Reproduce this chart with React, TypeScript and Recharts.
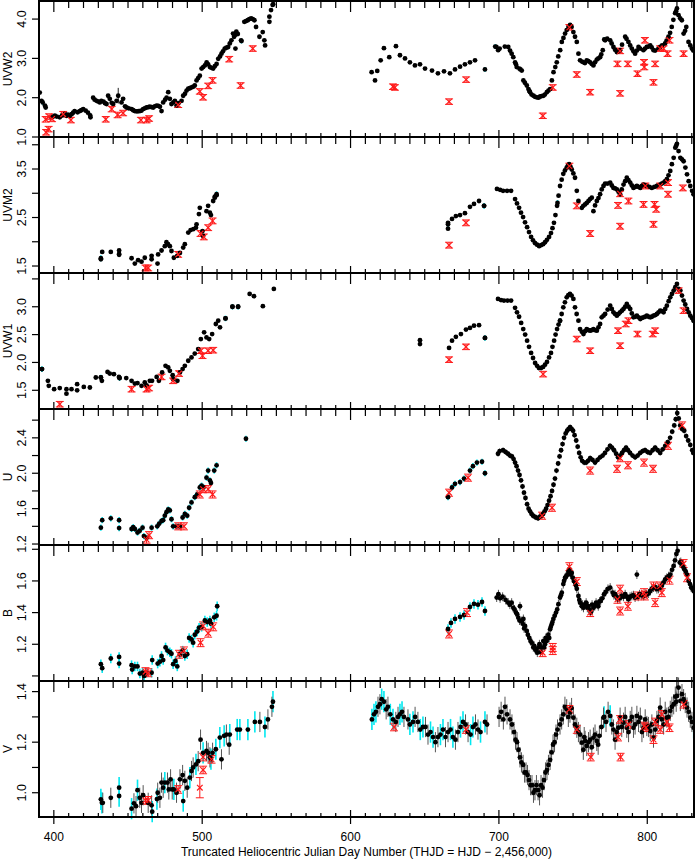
import React from 'react';
import { ComposedChart, Scatter, XAxis, YAxis, ErrorBar } from 'recharts';

type Pt = number[];

const FONT = '"Liberation Sans", Arial, Helvetica, sans-serif';
const W = 698;
const PANEL_H = 136;
const PAD = 16;
const BOTTOM_PAD = 46;
const PLOT_L = 39;
const PLOT_R = 694;

const DAY_DOMAIN = [390, 831.5];
const DAY_TICKS = [390, 400, 410, 420, 430, 440, 450, 460, 470, 480, 490, 500, 510, 520, 530, 540, 550, 560, 570, 580, 590, 600, 610, 620, 630, 640, 650, 660, 670, 680, 690, 700, 710, 720, 730, 740, 750, 760, 770, 780, 790, 800, 810, 820, 830];
const DAY_LABELS = [400, 500, 600, 700, 800];
const X_TITLE = 'Truncated Heliocentric Julian Day Number (THJD = HJD \u2212 2,456,000)';

// ---- UVW2 ----
const uvw2Black: Pt[] = [
  [390.5, 2.13], [391.7, 1.92], [394, 1.8], [394.5, 1.75], [398.5, 1.5], [400.7, 1.54], [404, 1.5], [407.4, 1.59], [408.5, 1.54], [410.8, 1.54],
  [413, 1.62], [414, 1.66], [417.5, 1.66], [419.8, 1.71], [423, 1.62], [424.7, 1.5], [426.5, 2.0], [428.8, 1.92], [431, 1.88], [432, 1.92],
  [435.5, 1.84], [436.6, 2.05], [437.7, 1.97], [440, 1.84], [442.3, 1.92], [443.4, 2.05, 0.2], [445.6, 1.88], [446.7, 1.97], [449, 1.75], [452.4, 1.71],
  [454.6, 1.66], [458, 1.66], [460.2, 1.71], [462.5, 1.75], [464.7, 1.77], [467, 1.75], [469.3, 1.8], [471.5, 1.77], [472.6, 1.66], [473.7, 1.88],
  [476, 2.0], [477.1, 2.14], [478.2, 1.97], [479.3, 1.84], [481.6, 1.92], [482.7, 1.8], [486.1, 1.92], [487.2, 2.05], [489.5, 2.18], [490.6, 2.23],
  [492.8, 2.26], [495, 2.31], [496.2, 2.44], [498.4, 2.56], [499.6, 2.74], [501.8, 2.82], [503, 2.9], [505.2, 2.78], [507.4, 2.74], [509.7, 2.86],
  [510.8, 2.99], [513, 3.12], [515.2, 3.25], [517.5, 3.29], [518.6, 3.38], [519.7, 3.46], [520.8, 3.63], [522, 3.59], [523, 3.68], [522.4, 3.25],
  [526.2, 3.46], [528.4, 3.93], [530.7, 3.97], [533, 4.02], [535.2, 3.97], [536.3, 3.8], [538.6, 3.55], [540.8, 3.67], [541.9, 3.46], [542.4, 3.33],
  [545.3, 4.06], [545.3, 3.93], [546.4, 4.23], [547.5, 4.36],
  [399.5, 1.52], [402, 1.52], [405.5, 1.55], [409.5, 1.57], [412, 1.58], [416, 1.63], [418.5, 1.68], [421.5, 1.67], [427.5, 1.95], [430, 1.9],
  [433.5, 1.9], [434.5, 1.86], [439, 1.87], [448, 1.78], [450.5, 1.73], [453.5, 1.68], [456, 1.65], [457, 1.66], [459, 1.67], [461.3, 1.73],
  [463.6, 1.76], [466, 1.76], [468, 1.78], [470.4, 1.79], [475, 1.95], [480.5, 1.88], [484, 1.86], [488.4, 2.1], [491.7, 2.24], [494, 2.28],
  [497.3, 2.5], [500.7, 2.78], [504, 2.85], [506.3, 2.76], [508.5, 2.8], [512, 3.05], [514, 3.18], [516.3, 3.27], [521.5, 3.55], [524, 3.62],
  [529.5, 3.95], [531.8, 4.0], [534.1, 4.0],
  [614.2, 2.65], [616.5, 2.44], [618, 2.68], [620.3, 2.95], [622.5, 3.26], [626.1, 3.03], [630.6, 3.31], [633.3, 3.08], [636.7, 3.0], [640, 2.9],
  [643.4, 2.82], [646.8, 2.85], [650.2, 2.74], [654.9, 2.69], [658.9, 2.62], [663, 2.67], [667, 2.62], [670.4, 2.72], [673.8, 2.79], [677.1, 2.85],
  [680.5, 2.9], [683.9, 2.95],
  [698.3, 3.29], [699.5, 3.21], [706.3, 3.29], [708.6, 3.12], [709.7, 3.03], [710.9, 2.9], [712, 2.78], [713.8, 2.74], [715.4, 2.69], [716.5, 2.44],
  [718.8, 2.31], [719.9, 2.22], [721, 2.14], [723.3, 2.05], [725.6, 2.01], [727.8, 2.03], [730, 2.05], [732.3, 2.14], [734.5, 2.22], [735.7, 2.44],
  [736.8, 2.65], [739, 2.9], [741.3, 3.21], [742.4, 3.42], [744.6, 3.63], [746.9, 3.8], [748, 3.85], [750.2, 3.67], [752.5, 3.42], [753.6, 3.12],
  [754.7, 2.95], [757, 2.9], [759.2, 2.95], [761.5, 2.9], [763.7, 2.82], [766, 2.97], [768.2, 3.03], [770, 3.21], [771.6, 3.46], [775, 3.46],
  [777.2, 3.29], [779.5, 3.16], [781.7, 3.21], [785.1, 3.55], [787.3, 3.42], [789.6, 3.25], [791.8, 3.12], [794.1, 3.29], [797.4, 3.21], [799.7, 3.29],
  [802, 3.33], [804.2, 3.21], [808.7, 3.29], [812, 3.38], [814.3, 3.55], [816.5, 3.8], [818.8, 4.15], [820, 4.27], [821.1, 4.1], [823.3, 3.97],
  [824.5, 3.63], [826.3, 3.8], [827.8, 3.42], [830.1, 3.25],
  [700.5, 3.25], [704, 3.3], [707.5, 3.2], [711.5, 2.85], [714.5, 2.72], [717.5, 2.38], [720.5, 2.17], [722, 2.08], [724.5, 2.02], [726.7, 2.0],
  [728.9, 2.04], [731, 2.08], [733.4, 2.18], [738, 2.78], [740, 3.05], [743.5, 3.52], [745.7, 3.72], [749, 3.8], [751.3, 3.55], [756, 2.92],
  [758, 2.88], [760.3, 2.93], [762.6, 2.86], [764.8, 2.9], [767, 3.0], [769, 3.1], [773, 3.5], [776, 3.38], [778.3, 3.22], [780.6, 3.18],
  [783, 3.35], [786, 3.5], [788.5, 3.33], [790.7, 3.18], [793, 3.2], [795.2, 3.25], [798.5, 3.25], [800.8, 3.3], [803, 3.28], [805.3, 3.2],
  [807.5, 3.25], [810, 3.33], [813, 3.45], [815.4, 3.65], [817.6, 3.98], [819.4, 4.2], [822.2, 4.02], [825.5, 3.7], [829, 3.33], [831, 3.2],
];
const uvw2Cyan: Pt[] = [
  [392.5, 1.88], [424.5, 1.55], [526.5, 3.44], [547.8, 4.38], [690.6, 2.72], [697.5, 3.3], [771, 3.48],
];
const uvw2Red: Pt[] = [
  [394.5, 1.45], [394.8, 1.12], [396.5, 1.2], [396.8, 1.52], [398.8, 1.46], [406.3, 1.58], [411.5, 1.43], [435, 1.45], [439, 1.71], [443, 1.56],
  [446.7, 1.61], [458.7, 1.43], [462.5, 1.43], [464.2, 1.47], [483.8, 1.82], [498.4, 2.16], [500.6, 2.01], [504, 2.3], [507, 2.44], [518.2, 2.98],
  [525.9, 2.31], [534.1, 3.25], [628.6, 2.28], [629.9, 2.26], [666.4, 1.9], [677.9, 2.46], [729.6, 1.54], [736.3, 2.26], [747.5, 3.79], [752.5, 2.59],
  [761.5, 2.14], [779.9, 2.86], [781.7, 2.11], [781.7, 3.19], [786.9, 2.86], [793.4, 2.61], [797.8, 2.9], [798, 2.78], [798.4, 3.46], [804.2, 2.39],
  [805.3, 2.86], [808.7, 3.25], [811, 3.25], [813.7, 3.12], [815, 3.46], [824.5, 3.12],
];

// ---- UVM2 ----
const uvm2Black: Pt[] = [
  [431.7, 1.64], [432.6, 1.79], [438.4, 1.79], [444, 1.82], [444, 1.73], [452.4, 1.66], [454.6, 1.55], [456.8, 1.62], [459.1, 1.59], [461.3, 1.67],
  [465.9, 1.71], [465.9, 1.64], [469.9, 1.55], [470.3, 1.74], [472.6, 1.82], [474.8, 1.91], [475.9, 1.99], [477, 1.95], [478.2, 1.91], [479.3, 1.81],
  [480.9, 1.67], [483.2, 1.71], [485, 1.77], [487.2, 1.88], [488.3, 1.95], [490.6, 2.19], [492.2, 2.24], [494, 2.26], [495.8, 2.29], [496.2, 2.36],
  [497.8, 2.57], [498.4, 2.7], [500.2, 2.22], [500.6, 2.12], [502.9, 2.63], [504, 2.74], [505.2, 2.6], [505.9, 2.55], [507.4, 2.84], [508.5, 2.91],
  [509.7, 2.96],
  [665.7, 2.39], [665.7, 2.27], [668.4, 2.47], [671, 2.53], [673.8, 2.55], [677.1, 2.59], [680.5, 2.72], [683.2, 2.78], [686.6, 2.84], [690, 2.74],
  [698.7, 3.09], [702.8, 3.05], [708.2, 3.05], [710.9, 2.88], [713.6, 2.7], [716.3, 2.51], [719, 2.3], [721.7, 2.1], [724.4, 1.97], [727.1, 1.91],
  [729.8, 1.95], [732.4, 2.04], [735.1, 2.18], [737.1, 2.39], [739.2, 2.74], [741.2, 3.15], [743.4, 3.4], [745.7, 3.53], [747.3, 3.6], [749.1, 3.49],
  [751.3, 3.32], [752.5, 3.05], [753.6, 2.84], [755.9, 2.7], [758.1, 2.77], [760.4, 2.84], [762.6, 2.91], [763.7, 2.63], [766, 2.84], [768.2, 2.98],
  [770.5, 3.15], [771.6, 3.2], [775, 3.22], [777.2, 3.11], [779.5, 3.08], [781.7, 2.98], [784, 3.18], [786.2, 3.32], [788.5, 3.22], [790.7, 3.11],
  [793, 3.15], [795.3, 3.11], [797.5, 3.18], [799.7, 3.15], [803.1, 3.11], [806.5, 3.15], [808.7, 3.18], [811, 3.22], [813.2, 3.29], [815.5, 3.46],
  [817.8, 3.73], [818.9, 3.94], [820, 4.02], [821.1, 3.87], [822.3, 3.73], [824.5, 3.66], [825.7, 3.53], [826.8, 3.39], [827.9, 3.25], [830.2, 3.05],
  [831.3, 2.98],
  [700.8, 3.07], [705.5, 3.05], [712.2, 2.79], [714.9, 2.6], [717.6, 2.4], [720.3, 2.2], [723, 2.03], [725.7, 1.94], [728.4, 1.93], [731.1, 1.99],
  [733.8, 2.1], [736.1, 2.28], [738.1, 2.55], [740.2, 2.95], [742.3, 3.28], [744.5, 3.47], [746.5, 3.57], [748.2, 3.55], [750.2, 3.41], [756.9, 2.74],
  [759.2, 2.8], [761.5, 2.88], [764.8, 2.75], [767.1, 2.9], [769.3, 3.08], [773.3, 3.2], [776.1, 3.16], [778.3, 3.1], [780.6, 3.03], [782.8, 3.08],
  [785.1, 3.25], [787.3, 3.27], [789.6, 3.16], [791.8, 3.13], [794.1, 3.13], [796.4, 3.15], [798.6, 3.16], [801.4, 3.13], [804.8, 3.13], [807.6, 3.16],
  [809.8, 3.2], [812.1, 3.25], [814.3, 3.37], [816.6, 3.6], [819.5, 3.98], [823.4, 3.7], [829, 3.15],
];
const uvm2Cyan: Pt[] = [
  [431.7, 1.66], [444, 1.75], [508.5, 2.93], [509.7, 2.98], [665.7, 2.36], [690, 2.74], [739.5, 2.8], [831.3, 2.98],
];
const uvm2Red: Pt[] = [
  [461.8, 1.46], [463.6, 1.46], [483.8, 1.74], [498.9, 2.17], [501.1, 2.1], [504, 2.29], [507, 2.43], [666.4, 1.93], [677.8, 2.39], [747.5, 3.56],
  [752.5, 2.74], [761.5, 2.17], [780.3, 2.75], [781.7, 2.99], [781.7, 2.32], [787.3, 2.84], [797.5, 2.77], [798.7, 3.15], [804.2, 2.36], [804.9, 2.77],
  [806, 2.67], [808.7, 3.15], [814, 3.22], [814, 2.98], [824, 3.11],
];

// ---- UVW1 ----
const uvw1Black: Pt[] = [
  [392, 1.88], [396, 1.67], [396.6, 1.58], [400.2, 1.52], [404, 1.54], [408.5, 1.52], [408.5, 1.44], [411.9, 1.52], [415.7, 1.61], [415.7, 1.5],
  [420.2, 1.56], [424.3, 1.55], [428.3, 1.73], [431.7, 1.73], [432.4, 1.67], [436.2, 1.83], [437.7, 1.8], [440.5, 1.79], [443.9, 1.74], [444.3, 1.72],
  [448.8, 1.72], [452.4, 1.67], [454.6, 1.62], [456.4, 1.63], [459.1, 1.58], [461.3, 1.64], [462.5, 1.59], [464.7, 1.67], [466.2, 1.67], [469.3, 1.74],
  [470.8, 1.67], [473, 1.82], [475.3, 1.94], [477.1, 1.91], [478.2, 1.85], [480.1, 1.77], [480.4, 1.7], [483.3, 1.67], [485, 1.82], [486.8, 1.88],
  [488.3, 1.94], [490.6, 2.03], [492.8, 2.09], [495, 2.16], [497.3, 2.24], [499.1, 2.42], [501.3, 2.54], [502.9, 2.45], [504.7, 2.42], [506.7, 2.51],
  [509.2, 2.69], [510.8, 2.75], [512, 2.63], [515.7, 2.79], [520.4, 3.0], [524.2, 3.0], [532, 3.23], [534.9, 3.19], [540.9, 3.01], [548.3, 3.32],
  [646.8, 2.4], [646.8, 2.33], [666.4, 2.26], [668.4, 2.39], [671, 2.46], [674.4, 2.51], [677.8, 2.59], [680.5, 2.62], [683.2, 2.66], [686.6, 2.67],
  [690.6, 2.44],
  [699.4, 3.14], [703.4, 3.11], [708.2, 3.11], [710.9, 2.98], [713.6, 2.82], [716.4, 2.6], [719, 2.39], [721.7, 2.17], [724.4, 1.99], [727, 1.9],
  [729.8, 1.92], [732.4, 2.01], [735.1, 2.17], [737.2, 2.39], [739.2, 2.6], [741.2, 2.75], [743.4, 2.99], [745.7, 3.17], [747.9, 3.23], [750.2, 3.14],
  [751.3, 2.99], [753.6, 2.75], [754.7, 2.6], [757, 2.51], [759.2, 2.6], [761.5, 2.57], [763.7, 2.6], [766, 2.57], [768.2, 2.69], [769.3, 2.81],
  [771.6, 2.87], [775, 3.02], [777.2, 2.9], [779.5, 2.84], [781.7, 2.9], [784, 2.96], [786.2, 3.05], [788.5, 2.96], [790.7, 2.81], [793, 2.84],
  [795.3, 2.78], [797.5, 2.81], [799.7, 2.84], [802, 2.81], [804.2, 2.84], [806.5, 2.87], [808.7, 2.93], [811, 2.9], [813.2, 3.02], [815.5, 3.17],
  [817.8, 3.29], [820, 3.41], [821.1, 3.32], [822.3, 3.29], [824.5, 3.11], [826.8, 2.96], [829, 2.84], [831.3, 2.75],
  [701.4, 3.12], [705.8, 3.11], [712.2, 2.9], [715, 2.71], [717.7, 2.5], [720.3, 2.28], [723, 2.08], [725.7, 1.94], [728.4, 1.9], [731.1, 1.96],
  [733.8, 2.09], [736.1, 2.28], [738.2, 2.5], [740.2, 2.68], [742.3, 2.87], [744.5, 3.08], [746.8, 3.21], [749, 3.2], [752.4, 2.87], [755.9, 2.55],
  [758.1, 2.56], [760.4, 2.58], [762.6, 2.58], [764.8, 2.58], [767.1, 2.63], [770.5, 2.84], [773.3, 2.95], [776.1, 2.96], [778.3, 2.87], [780.6, 2.87],
  [782.9, 2.93], [785.1, 3.0], [787.4, 3.0], [789.6, 2.88], [791.8, 2.82], [794.1, 2.81], [796.4, 2.8], [798.6, 2.82], [800.9, 2.82], [803.1, 2.82],
  [805.4, 2.85], [807.6, 2.9], [809.8, 2.92], [812.1, 2.96], [814.4, 3.1], [816.6, 3.23], [818.9, 3.35], [823.4, 3.2], [825.6, 3.04], [827.9, 2.9],
  [830.1, 2.8],
];
const uvw1Cyan: Pt[] = [
  [392, 1.88], [431.7, 1.73], [444.3, 1.72], [515.7, 2.79], [520.4, 3.0], [524.2, 3.0], [690.6, 2.44], [741.2, 2.75], [831.3, 2.75],
];
const uvw1Red: Pt[] = [
  [404, 1.25], [452.4, 1.52], [462.5, 1.52], [464.2, 1.54], [472.6, 1.74], [480.4, 1.67], [484.4, 1.8], [499.1, 2.21], [500.2, 2.12], [504, 2.21],
  [507.4, 2.22], [666.4, 2.05], [677.8, 2.28], [729.8, 1.79], [752.5, 2.42], [761.5, 2.21], [780.3, 2.57], [781.7, 2.3], [785.5, 2.69], [787.3, 2.75],
  [793.4, 2.51], [803.7, 2.51], [805.3, 2.57], [821.1, 3.29], [824.5, 2.93],
];

// ---- U ----
const uCyan: Pt[] = [
  [431.7, 1.385], [432.6, 1.47], [438.4, 1.49], [444, 1.47], [444, 1.38], [452.4, 1.37], [453.5, 1.39], [454.6, 1.37], [456.4, 1.33], [457.9, 1.35],
  [459.8, 1.385], [460.7, 1.29], [462.5, 1.27], [465.9, 1.385], [469.7, 1.4], [471, 1.43], [472.6, 1.46], [473.7, 1.47], [474.8, 1.52], [475.9, 1.56],
  [477.1, 1.59], [478.2, 1.58], [479.3, 1.48], [480.4, 1.4], [482.7, 1.4], [485, 1.4], [486.8, 1.5], [488.3, 1.54], [489.9, 1.52], [491.2, 1.61],
  [492.8, 1.67], [495, 1.73], [496.6, 1.76], [498.4, 1.84], [499.6, 1.86], [500.9, 1.84], [502.9, 1.95], [504, 2.03], [505.2, 1.92], [505.9, 1.89],
  [508.1, 2.03], [509.7, 2.09], [529.5, 2.39],
  [665.7, 1.73], [668.4, 1.84], [670.4, 1.88], [673.8, 1.9], [676.5, 1.94], [680.5, 2.03], [682.5, 2.08], [685.2, 2.12], [688.6, 2.13], [690.6, 2.0],
];
const uBlack: Pt[] = [
  [699.4, 2.22], [702.8, 2.26], [706.1, 2.22], [708.8, 2.19], [710.9, 2.12], [712.9, 2.03], [714.9, 1.92], [716.9, 1.78], [719, 1.65], [721, 1.57],
  [723, 1.52], [725, 1.5], [727.7, 1.51], [729.8, 1.54], [731.8, 1.6], [733.8, 1.69], [735.8, 1.8], [737.8, 1.94], [739.9, 2.11], [741.9, 2.26],
  [743.9, 2.4], [746, 2.48], [748, 2.52], [750, 2.48], [752.1, 2.37], [754.1, 2.23], [756.1, 2.14], [758.8, 2.12], [761.5, 2.17], [764.8, 2.12],
  [768.2, 2.18], [771.5, 2.23], [774.9, 2.31], [777.6, 2.26], [780.3, 2.18], [783, 2.23], [785.7, 2.29], [788.4, 2.23], [791.8, 2.18], [795.2, 2.23],
  [798.5, 2.26], [801.9, 2.23], [805.3, 2.29], [808.7, 2.23], [812.1, 2.31], [815.4, 2.4], [818.2, 2.54], [820.2, 2.68], [822.2, 2.54], [824.9, 2.48],
  [827.6, 2.37], [830.3, 2.26],
  [700.5, 2.25], [704.5, 2.24], [707.5, 2.2], [709.9, 2.16], [711.9, 2.08], [713.9, 1.98], [715.9, 1.85], [717.9, 1.72], [720, 1.6], [722, 1.54],
  [724, 1.51], [726.4, 1.49], [728.8, 1.52], [730.8, 1.57], [732.8, 1.64], [734.8, 1.74], [736.8, 1.87], [738.8, 2.03], [740.9, 2.19], [742.9, 2.33],
  [745, 2.45], [747, 2.5], [749, 2.5], [751, 2.43], [753.1, 2.3], [755.1, 2.18], [757.5, 2.12], [760.1, 2.14], [763.1, 2.15], [766.5, 2.15],
  [769.9, 2.2], [773.2, 2.27], [776.2, 2.29], [779, 2.22], [781.7, 2.2], [784.3, 2.26], [787, 2.26], [790.1, 2.2], [793.5, 2.2], [796.9, 2.25],
  [800.2, 2.24], [803.6, 2.26], [807, 2.26], [810.4, 2.27], [813.8, 2.35], [816.8, 2.47], [819.2, 2.61], [821.2, 2.62], [823.5, 2.5], [826.2, 2.42],
  [829, 2.32], [831, 2.23],
];
const uRed: Pt[] = [
  [462.5, 1.25], [464.2, 1.3], [483.8, 1.4], [487.7, 1.4], [498.4, 1.76], [500.6, 1.82], [504, 1.82], [507, 1.76], [666.4, 1.78], [679.2, 1.95],
  [729.1, 1.52], [735.8, 1.61], [761.5, 2.03], [779.6, 2.05], [781.7, 2.17], [787, 2.09], [797.8, 2.12], [803.9, 2.05], [814, 2.31], [823.5, 2.54],
];

// ---- B ----
const bCyan: Pt[] = [
  [431.7, 1.074], [432.6, 1.049], [438.4, 1.11], [444, 1.12], [444, 1.078], [452.4, 1.068], [452.8, 1.04], [454.6, 1.06], [456.4, 1.06], [458, 1.015],
  [459.8, 1.02], [460.9, 1.0], [462.5, 1.02], [465.9, 1.02], [466.3, 1.1], [470, 1.078], [471.5, 1.09], [472.6, 1.126], [473.7, 1.1], [475.3, 1.18],
  [476.6, 1.16], [478.2, 1.15], [479.3, 1.14], [480.4, 1.074], [482, 1.095], [483.2, 1.06], [485, 1.137], [486.8, 1.16], [488.3, 1.126], [489.9, 1.137],
  [491.2, 1.24], [492.8, 1.23], [493.9, 1.21], [495, 1.26], [496.6, 1.28], [497.9, 1.305], [499.6, 1.31], [501.8, 1.35], [503.4, 1.34], [505.2, 1.35],
  [505.9, 1.33], [508.1, 1.37], [509.7, 1.38], [510.1, 1.44],
  [665.7, 1.297], [667.7, 1.335], [670.4, 1.36], [673.8, 1.373], [676.5, 1.385], [680.5, 1.436], [683.2, 1.455], [685.9, 1.45], [688.6, 1.467], [690.6, 1.41],
];
const bBlack: Pt[] = [
  [698.5, 1.495], [699.7, 1.516], [702.5, 1.5], [706.3, 1.463], [708.6, 1.463], [709.7, 1.43], [711.5, 1.4], [713.1, 1.368], [714.2, 1.44], [715.4, 1.347],
  [716.5, 1.36], [717.6, 1.316], [718.8, 1.284], [720.5, 1.24], [722.1, 1.21], [723.2, 1.18], [724.4, 1.17], [725.9, 1.147], [727.3, 1.2], [728.8, 1.18],
  [729.9, 1.22], [731, 1.2], [732.2, 1.22], [733.3, 1.26], [734.5, 1.295], [735.6, 1.327], [736.7, 1.36], [738.5, 1.4], [740.1, 1.453], [741.2, 1.495],
  [742.4, 1.526], [743.4, 1.58], [744.6, 1.62], [746.2, 1.64], [747.5, 1.674], [748.4, 1.64], [749.8, 1.62], [751.3, 1.59], [752.5, 1.55], [753.6, 1.505],
  [754.7, 1.463], [755.9, 1.44], [757, 1.43], [758.8, 1.463], [760.3, 1.44], [761.9, 1.4], [763.7, 1.43], [765.5, 1.463], [767, 1.44], [768.6, 1.474],
  [770.9, 1.516], [775, 1.558], [776.7, 1.526], [778.3, 1.516], [780.1, 1.484], [782.8, 1.505], [785.1, 1.516], [787.3, 1.484], [789.6, 1.505], [791.8, 1.495],
  [793, 1.64], [794.8, 1.516], [797.5, 1.505], [799.7, 1.516], [802, 1.537], [804.2, 1.558], [806.5, 1.548], [808.7, 1.558], [811, 1.59], [813.2, 1.62],
  [815.5, 1.64], [817.8, 1.695], [819.6, 1.77], [820.5, 1.79], [821.9, 1.716], [823.4, 1.705], [825, 1.674], [826.8, 1.64], [827.9, 1.6], [829.6, 1.558],
  [831.3, 1.537],
  [700.8, 1.49], [704.5, 1.48], [707.4, 1.45], [710.5, 1.42], [712.3, 1.39], [713.9, 1.35], [716, 1.33], [717, 1.3], [719.5, 1.26], [721.3, 1.22],
  [723.8, 1.19], [725.1, 1.16], [726.6, 1.18], [728.1, 1.15], [730.5, 1.18], [731.6, 1.24], [733.9, 1.24], [735, 1.31], [736.1, 1.34], [737.6, 1.38],
  [739.3, 1.42], [741.8, 1.51], [743.9, 1.6], [745.4, 1.63], [746.9, 1.66], [749.1, 1.65], [750.5, 1.6], [752, 1.57], [754.2, 1.48], [756.4, 1.45],
  [758, 1.45], [759.6, 1.43], [761.1, 1.42], [762.8, 1.45], [764.6, 1.44], [766.3, 1.45], [767.8, 1.47], [769.7, 1.49], [772, 1.53], [773.5, 1.55],
  [777.5, 1.51], [779.2, 1.5], [781.5, 1.49], [784, 1.5], [786.2, 1.5], [788.4, 1.5], [790.7, 1.51], [793.9, 1.5], [796.2, 1.51], [798.6, 1.52],
  [800.9, 1.52], [803.1, 1.55], [805.4, 1.56], [807.6, 1.55], [809.8, 1.57], [812.1, 1.61], [814.4, 1.63], [816.7, 1.67], [818.7, 1.73], [822.6, 1.72],
  [824.2, 1.69], [825.9, 1.66], [828.8, 1.58], [830.5, 1.55],
];
const bRed: Pt[] = [
  [461.8, 1.027], [463.6, 1.02], [484.4, 1.137], [487.7, 1.158], [498.9, 1.21], [500.6, 1.316], [504, 1.27], [507.4, 1.31], [666.4, 1.265], [678.5, 1.4],
  [729.5, 1.147], [736.3, 1.18], [736.3, 1.16], [747.5, 1.69], [752.5, 1.596], [761.5, 1.4], [779.9, 1.484], [781.7, 1.548], [781.7, 1.41], [786.9, 1.44],
  [793.4, 1.505], [797.8, 1.526], [798.4, 1.505], [804.2, 1.568], [805.3, 1.463], [808.7, 1.568], [809.8, 1.526], [815, 1.605], [824.5, 1.71], [826.8, 1.62],
];

// ---- V ----
const vCyan: Pt[] = [
  [431.7, 0.974], [432.4, 0.96], [444, 1.02], [444, 0.987], [452.4, 0.937], [456.4, 1.01], [466.3, 0.925], [469.5, 0.975], [474.8, 1.04], [480.9, 1.013],
  [487.2, 0.967], [491.7, 1.06], [495.8, 1.112], [500.6, 1.158], [505.9, 1.133], [509.2, 1.172], [511.9, 1.218], [514.8, 1.225], [518.6, 1.23], [523.6, 1.25],
  [525.4, 1.25], [530.8, 1.25], [535.5, 1.28], [542.3, 1.26], [547.7, 1.36],
  [614.4, 1.29], [617.1, 1.32], [622.5, 1.36], [628.6, 1.29], [634.7, 1.32], [642.1, 1.28], [648.8, 1.26], [655.6, 1.22], [662.3, 1.25], [669, 1.22],
  [675.8, 1.28], [682.5, 1.26], [690.6, 1.28], [770.9, 1.3], [775, 1.304], [831.3, 1.257],
  [615.8, 1.31], [621, 1.37], [626.8, 1.31], [633.3, 1.31], [640, 1.27], [647, 1.25], [653.9, 1.24], [660.6, 1.23], [667.4, 1.25], [674.1, 1.26],
  [680.9, 1.23], [687.6, 1.24],
];
const vBlack: Pt[] = [
  [433, 0.96], [438.4, 0.98], [454, 0.958], [455.4, 0.947], [457.9, 0.98], [459.1, 0.96], [460.2, 0.99], [463.6, 0.96], [465.9, 0.95], [470, 1.0],
  [471.5, 0.98], [472.6, 1.04], [473.7, 1.02], [476.6, 1.04], [477.5, 1.013], [478.7, 1.053], [479.8, 1.013], [482.7, 1.0], [485, 1.053], [486.8, 1.07],
  [488.3, 1.047], [489.9, 1.02], [492.8, 1.086], [493.9, 1.1], [497.3, 1.125], [498.9, 1.21], [502.9, 1.165], [504, 1.158], [505.2, 1.14], [507, 1.158],
  [513, 1.132], [516.3, 1.23], [518.2, 1.19], [538.9, 1.28], [544.3, 1.29], [547, 1.34],
  [619.8, 1.35], [625.2, 1.34], [632, 1.3], [638.7, 1.29], [645.4, 1.28], [652.2, 1.23], [658.9, 1.22], [665.7, 1.24], [672.4, 1.24], [679.2, 1.24],
  [685.9, 1.25], [618.5, 1.34], [624, 1.33], [630.5, 1.28], [636, 1.3], [643.5, 1.3], [650.5, 1.26], [657.2, 1.2], [664, 1.22], [670.7, 1.21],
  [677.5, 1.27], [684.2, 1.27], [692, 1.27],
  [700.1, 1.3], [704.1, 1.34], [707.5, 1.29], [710.2, 1.24], [712.2, 1.2], [714.2, 1.14], [716.3, 1.11], [718.3, 1.08], [720.3, 1.05], [722.3, 1.03],
  [724.3, 1.01], [726.4, 1.01], [728.4, 1.03], [730.4, 1.05], [732.4, 1.09], [734.5, 1.13], [736.5, 1.19], [738.5, 1.23], [741.2, 1.27], [743.4, 1.31],
  [745.7, 1.33], [747.9, 1.317], [750.2, 1.297], [752.5, 1.257], [754.7, 1.23], [755.9, 1.198], [758.1, 1.205], [759.2, 1.185], [761.5, 1.21], [763.7, 1.218],
  [766, 1.205], [767.7, 1.225], [770.5, 1.297], [776.1, 1.27], [778.3, 1.21], [780.5, 1.257], [781.7, 1.297], [784, 1.277], [786.2, 1.257], [788.5, 1.284],
  [790.7, 1.257], [793, 1.304], [795.3, 1.297], [797.5, 1.257], [799.7, 1.264], [802, 1.244], [804.2, 1.218], [806.5, 1.284], [808.7, 1.337], [811, 1.27],
  [813.2, 1.297], [815.5, 1.324], [817.8, 1.35], [820, 1.383], [821.1, 1.416], [822.3, 1.363], [824.5, 1.37], [826.8, 1.337], [829, 1.297],
  [701.5, 1.32], [703, 1.29], [705.5, 1.31], [708.8, 1.27], [711.2, 1.21], [713.2, 1.17], [715.2, 1.12], [717.3, 1.08], [719.3, 1.07], [721.3, 1.03],
  [723.3, 1.0], [725.3, 1.03], [727.4, 0.99], [729.4, 1.02], [731.4, 1.08], [733.4, 1.11], [735.5, 1.16], [737.5, 1.2], [739.5, 1.25],
  [742.3, 1.29], [744.5, 1.34], [746.8, 1.3], [749, 1.335], [751.3, 1.27], [753.6, 1.24], [756.9, 1.17], [757.5, 1.22], [760.4, 1.2], [762.6, 1.18],
  [764.8, 1.23], [766.9, 1.19], [769.1, 1.26], [772.2, 1.28], [773.6, 1.32], [777.2, 1.25], [779.4, 1.24], [782.8, 1.26], [785.1, 1.3], [787.4, 1.24],
  [789.6, 1.3], [791.8, 1.27], [794.1, 1.28], [796.4, 1.24], [798.6, 1.29], [800.8, 1.26], [803.1, 1.27], [805.4, 1.25], [807.6, 1.3], [809.8, 1.29],
  [812.1, 1.32], [814.3, 1.3], [816.6, 1.34], [818.9, 1.38], [819.5, 1.36], [823.4, 1.39], [825.6, 1.355], [827.9, 1.32], [830.1, 1.28],
];
const vRed: Pt[] = [
  [461.8, 0.97], [463.6, 0.97], [483.8, 1.013], [498.4, 1.02, 0.04], [500.6, 1.09], [500.6, 1.141], [506.3, 1.132], [629.3, 1.26], [677.8, 1.25], [747.5, 1.33],
  [752.5, 1.25], [761.9, 1.141], [780.3, 1.22], [781.7, 1.29], [782, 1.141], [787.3, 1.27], [798.1, 1.264], [799, 1.257], [804.2, 1.21], [805.3, 1.28],
  [808.7, 1.25], [809.8, 1.31], [813.2, 1.28], [815, 1.257], [824.5, 1.35],
];

const PANELS = [
  { name: 'UVW2', domain: [1.0, 4.46], ticks: [1, 2, 3, 4], labels: [1, 2, 3, 4], black: uvw2Black, cyan: uvw2Cyan, red: uvw2Red, errB: 0.035, errC: 0.06, errR: 0.07, barB: '#222' },
  { name: 'UVM2', domain: [1.356, 4.16], ticks: [1.5, 2, 2.5, 3, 3.5, 4], labels: [1.5, 2.5, 3.5], black: uvm2Black, cyan: uvm2Cyan, red: uvm2Red, errB: 0.03, errC: 0.06, errR: 0.06, barB: '#222' },
  { name: 'UVW1', domain: [1.164, 3.606], ticks: [1.5, 2, 2.5, 3, 3.5], labels: [1.5, 2, 2.5, 3], black: uvw1Black, cyan: uvw1Cyan, red: uvw1Red, errB: 0.03, errC: 0.05, errR: 0.05, barB: '#222' },
  { name: 'U', domain: [1.189, 2.726], ticks: [1.2, 1.4, 1.6, 1.8, 2.0, 2.2, 2.4, 2.6], labels: [1.2, 1.6, 2.0, 2.4], black: uBlack, cyan: uCyan, red: uRed, errB: 0.03, errC: 0.035, errR: 0.04, barB: '#555' },
  { name: 'B', domain: [0.968, 1.827], ticks: [1.0, 1.2, 1.4, 1.6, 1.8], labels: [1.2, 1.4, 1.6], black: bBlack, cyan: bCyan, red: bRed, errB: 0.028, errC: 0.03, errR: 0.025, barB: '#555' },
  { name: 'V', domain: [0.904, 1.442], ticks: [1.0, 1.1, 1.2, 1.3, 1.4], labels: [1.0, 1.2, 1.4], black: vBlack, cyan: vCyan, red: vRed, errB: 0.04, errC: 0.042, errR: 0.015, barB: '#555' },
];

const toRows = (pts: Pt[], err: number) => pts.map((p) => ({ d: p[0], m: p[1], e: p[2] ?? err }));

const Dot = (p: any) => <circle cx={p.cx} cy={p.cy} r={2.4} fill="#000" />;
const RedX = (p: any) => {
  const s = 2.8;
  return (
    <path
      d={`M${p.cx - s},${p.cy - s}L${p.cx + s},${p.cy + s}M${p.cx - s},${p.cy + s}L${p.cx + s},${p.cy - s}`}
      stroke="#ff1a1a"
      strokeWidth={1.2}
      fill="none"
    />
  );
};

const YTick = ({ y, payload, labels }: any) => {
  const v = payload.value;
  return (
    <g>
      <line x1={PLOT_L - 7} x2={PLOT_L} y1={y} y2={y} stroke="#000" strokeWidth={1.2} />
      {labels.includes(v) && (
        <text x={22} y={y} transform={`rotate(-90 22 ${y})`} textAnchor="middle" dominantBaseline="central"
          fontSize={12.5} fontFamily={FONT} fill="#000">
          {v.toFixed(1)}
        </text>
      )}
    </g>
  );
};

const BottomTick = ({ x, y, payload, last }: any) => {
  const major = payload.value % 100 === 0;
  return (
    <g>
      <line x1={x} x2={x} y1={y} y2={y - (major ? 7 : 4)} stroke="#000" strokeWidth={1.2} />
      {last && major && <line x1={x} x2={x} y1={y} y2={y + 7} stroke="#000" strokeWidth={1.2} />}
      {last && DAY_LABELS.includes(payload.value) && (
        <text x={x} y={y + 23.5} textAnchor="middle" fontSize={12} fontFamily={FONT} fill="#000">{payload.value}</text>
      )}
    </g>
  );
};

const TopTick = ({ x, y, payload }: any) => {
  const major = payload.value % 100 === 0;
  return <line x1={x} x2={x} y1={y} y2={y + (major ? 11 : 7)} stroke="#000" strokeWidth={1.2} />;
};

const YTitle = ({ viewBox, text }: any) => {
  const vb = viewBox && viewBox.height ? viewBox : { y: PAD, height: PANEL_H };
  const cy = vb.y + vb.height / 2;
  return (
    <text x={8} y={cy} transform={`rotate(-90 8 ${cy})`} textAnchor="middle" dominantBaseline="central"
      fontSize={12} fontFamily={FONT} fill="#000">
      {text}
    </text>
  );
};

const XTitle = ({ viewBox }: any) => {
  const vb = viewBox && viewBox.width ? viewBox : { x: PLOT_L, y: PAD + PANEL_H, width: PLOT_R - PLOT_L };
  return (
    <text x={vb.x + vb.width / 2} y={vb.y + 38.5} textAnchor="middle" fontSize={12} fontFamily={FONT} fill="#000">
      {X_TITLE}
    </text>
  );
};

function Panel({ cfg, index, last }: any) {
  const bottom = last ? BOTTOM_PAD : PAD;
  return (
    <div style={{ position: 'absolute', left: 0, top: index * PANEL_H - PAD + 1 }}>
      <ComposedChart width={W} height={PANEL_H + PAD + bottom} margin={{ top: PAD - 1, right: W - PLOT_R, bottom: bottom - 1, left: 0 }}>
        <XAxis xAxisId="b" dataKey="d" type="number" domain={DAY_DOMAIN} allowDataOverflow ticks={DAY_TICKS} interval={0}
          orientation="bottom" height={1} tickSize={0} tickMargin={0} tickLine={false} axisLine={false}
          tick={(p: any) => <BottomTick {...p} last={last} />}
          label={last ? <XTitle /> : undefined} />
        <XAxis xAxisId="t" dataKey="d" type="number" domain={DAY_DOMAIN} allowDataOverflow ticks={DAY_TICKS} interval={0}
          orientation="top" height={1} tickSize={0} tickMargin={0} tickLine={false} axisLine={false}
          tick={(p: any) => <TopTick {...p} />} />
        <YAxis yAxisId="l" dataKey="m" type="number" domain={cfg.domain} allowDataOverflow ticks={cfg.ticks} interval={0}
          width={PLOT_L} tickSize={0} tickMargin={0} tickLine={false} axisLine={false}
          tick={(p: any) => <YTick {...p} labels={cfg.labels} />}
          label={<YTitle text={cfg.name} />} />
        <Scatter xAxisId="b" yAxisId="l" data={toRows(cfg.cyan, cfg.errC)} dataKey="m" shape={Dot} isAnimationActive={false}>
          <ErrorBar dataKey="e" direction="y" width={0} stroke="#00e8f0" strokeWidth={1.6} />
        </Scatter>
        <Scatter xAxisId="b" yAxisId="l" data={toRows(cfg.black, cfg.errB)} dataKey="m" shape={Dot} isAnimationActive={false}>
          <ErrorBar dataKey="e" direction="y" width={0} stroke={cfg.barB} strokeWidth={1} />
        </Scatter>
        <Scatter xAxisId="b" yAxisId="l" data={toRows(cfg.red, cfg.errR)} dataKey="m" shape={RedX} isAnimationActive={false}>
          <ErrorBar dataKey="e" direction="y" width={4} stroke="#ff1a1a" strokeWidth={1} />
        </Scatter>
      </ComposedChart>
    </div>
  );
}

// plain box drawn around each panel's plotting region
function Frame({ index }: any) {
  return (
    <div style={{
      position: 'absolute', left: PLOT_L - 1, top: index * PANEL_H, width: PLOT_R - PLOT_L + 2, height: PANEL_H + 2,
      border: '2px solid #000', boxSizing: 'border-box', pointerEvents: 'none',
    }} />
  );
}

export default function App() {
  return (
    <div style={{ position: 'absolute', left: 0, top: 0, width: W, height: 859, background: '#fff', overflow: 'hidden' }}>
      {PANELS.map((cfg, i) => (
        <Panel key={cfg.name} cfg={cfg} index={i} last={i === PANELS.length - 1} />
      ))}
      {PANELS.map((cfg, i) => (
        <Frame key={cfg.name + '-f'} index={i} />
      ))}
    </div>
  );
}
